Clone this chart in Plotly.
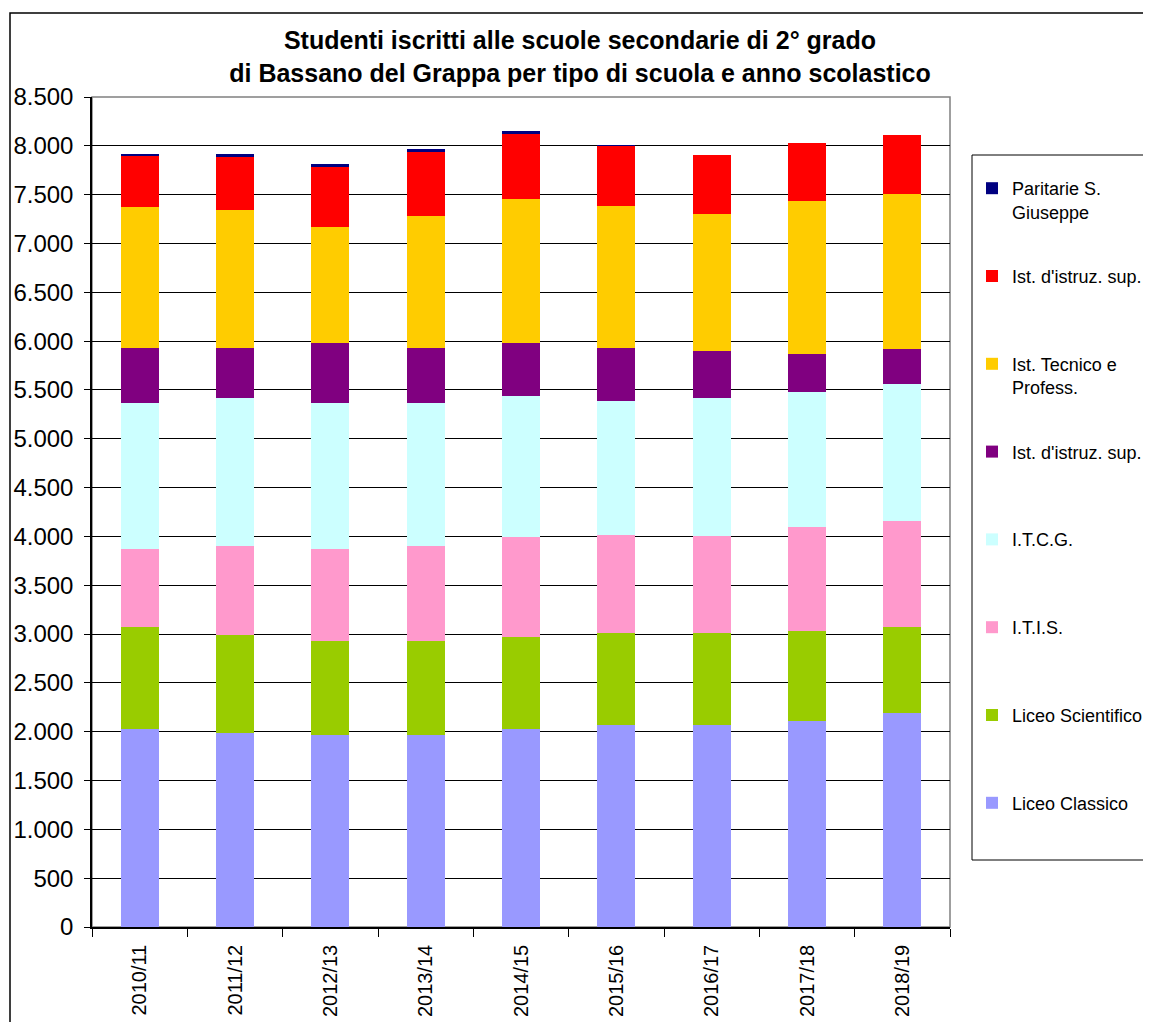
import plotly.graph_objects as go

anni = ["2010/11", "2011/12", "2012/13", "2013/14", "2014/15", "2015/16", "2016/17", "2017/18", "2018/19"]

liceo_classico = [2028, 1987, 1966, 1966, 2028, 2069, 2069, 2110, 2192]
liceo_scientifico = [1044, 1003, 963, 963, 942, 942, 942, 921, 880]
itis = [799, 912, 942, 973, 1024, 1003, 993, 1065, 1086]
itcg = [1495, 1515, 1495, 1464, 1444, 1373, 1413, 1383, 1403]
ist_sup_viola = [563, 512, 614, 563, 542, 542, 481, 389, 358]
ist_tecnico = [1444, 1414, 1188, 1352, 1475, 1454, 1404, 1567, 1587]
ist_sup_rosso = [525, 542, 615, 655, 666, 622, 604, 593, 605]
paritarie = [18, 31, 30, 31, 31, 3, 0, 0, 0]

# (legend label, values, colour) from the bottom of the stack to the top
series = [
    ("Liceo Classico<br> ", liceo_classico, "#9999FF"),
    ("Liceo Scientifico<br> ", liceo_scientifico, "#99CC00"),
    ("I.T.I.S.<br> ", itis, "#FF99CC"),
    ("I.T.C.G.<br> ", itcg, "#CCFFFF"),
    ("Ist. d'istruz. sup.<br> ", ist_sup_viola, "#800080"),
    ("Ist. Tecnico e<br>Profess.", ist_tecnico, "#FFCC00"),
    ("Ist. d'istruz. sup.<br> ", ist_sup_rosso, "#FF0000"),
    ("Paritarie S.<br>Giuseppe", paritarie, "#000080"),
]

FONT = "Arial, Liberation Sans, sans-serif"

fig = go.Figure()
n = len(series)
for i, (name, vals, col) in enumerate(series):
    fig.add_trace(go.Bar(
        x=anni, y=vals, name=name, legendgroup=f"g{i}", legendrank=n - i,
        marker=dict(color=col, line=dict(width=0)),
    ))

OFF = 8  # page offset of the figure
W, H = 1151 - OFF, 1022 - OFF
L, R, T, B = 92 - OFF, 950 - OFF, 97 - OFF, 927 - OFF
pw, ph = R - L, B - T

def px_x(sx):
    return (sx - OFF - L) / pw

def px_y(sy):
    return (B - (sy - OFF)) / ph

fig.update_layout(
    width=W, height=H,
    barmode="stack", bargap=0.6,
    separators=",.",
    paper_bgcolor="white", plot_bgcolor="white",
    margin=dict(l=L, r=W - R, t=T, b=H - B, autoexpand=False),
    font=dict(family=FONT, color="black"),
    title=dict(
        text="<b>Studenti iscritti alle scuole secondarie di 2° grado<br>di Bassano del Grappa per tipo di scuola e anno scolastico</b>",
        x=px_x(580), xref="paper", xanchor="center",
        y=1 - (49 - OFF) / H, yref="container", yanchor="middle",
        font=dict(size=25, family=FONT, color="black"),
    ),
    showlegend=True,
    legend=dict(
        x=px_x(972), xanchor="left", xref="paper",
        y=px_y(170), yanchor="top", yref="paper",
        traceorder="grouped", tracegroupgap=38, valign="top",
        font=dict(size=18, family=FONT, color="black"),
        bgcolor="rgba(0,0,0,0)", borderwidth=0,
    ),
    xaxis=dict(
        type="category", tickangle=-90,
        tickfont=dict(size=20, family=FONT, color="black"),
        ticks="outside", ticklen=8, tickcolor="black",
        tickson="boundaries", ticklabelstandoff=8,
        showline=True, linecolor="black", linewidth=1.5,
        showgrid=False, automargin=False,
    ),
    yaxis=dict(
        range=[0, 8500], dtick=500, tickformat=",d",
        tickfont=dict(size=24, family=FONT, color="black"),
        ticks="outside", ticklen=6, tickcolor="black",
        ticklabelstandoff=6,
        showline=True, linecolor="black", linewidth=1.5,
        showgrid=True, gridcolor="black", gridwidth=1,
        zeroline=False, automargin=False,
    ),
    shapes=[
        dict(type="rect", xref="paper", yref="paper", x0=0, x1=1, y0=0, y1=1,
             line=dict(color="#808080", width=1.5), layer="below"),
        dict(type="rect", xref="paper", yref="paper",
             x0=px_x(972), x1=px_x(1175), y0=px_y(155), y1=px_y(860),
             line=dict(color="black", width=1)),
        dict(type="rect", xref="paper", yref="paper",
             x0=px_x(10), x1=px_x(1180), y0=px_y(13), y1=px_y(1050),
             line=dict(color="black", width=1.5)),
    ],
)

fig.write_html("out.html")
